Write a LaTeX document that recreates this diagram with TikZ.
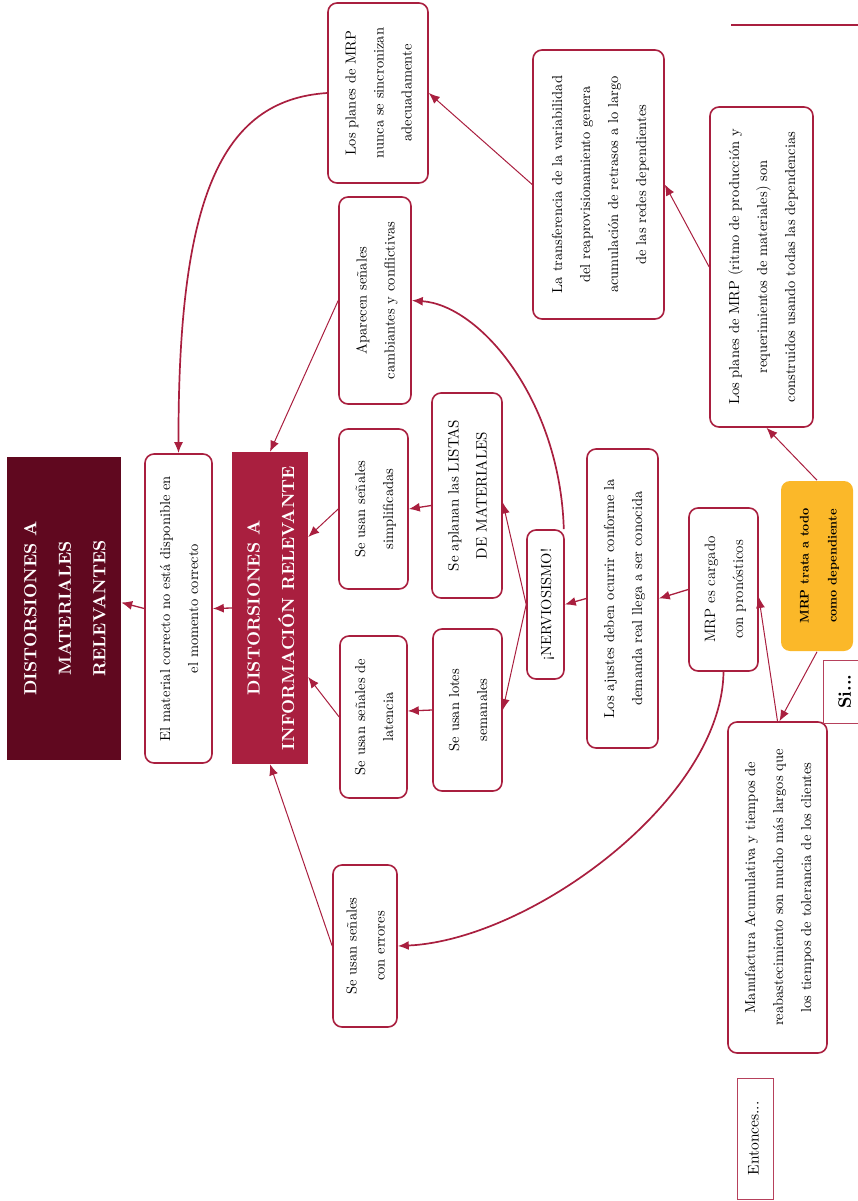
\documentclass[tikz,border=0pt]{standalone}
\usepackage{fontspec}
\setmainfont{lmroman10-regular.otf}[BoldFont=lmroman10-bold.otf]
\newfontfamily\lightrm{lmroman12-regular.otf}
\usetikzlibrary{arrows.meta}
\definecolor{crim}{HTML}{A91F3F}
\definecolor{wine}{HTML}{60081F}
\definecolor{amber}{HTML}{FBB829}
% stack lines of text and turn them to read upwards
\newcommand\rotlines[1]{\rotatebox{90}{\begin{tabular}{@{}c@{}}#1\end{tabular}}}
\begin{document}
\begin{tikzpicture}[x=1pt,y=-1pt,
  sz/.style 2 args={minimum width=#1, minimum height=#2},
  box/.style={draw=crim, line width=1.6pt, rounded corners=9pt, fill=white,
    inner sep=0pt, font=\fontsize{14.5}{28}\selectfont},
  head/.style={inner sep=0pt, text=white, font=\bfseries\fontsize{17.5}{34.5}\selectfont},
  tag/.style={draw=crim!85, line width=0.8pt, fill=white, inner sep=0pt},
  link/.style={draw=crim, line width=1pt, -{Latex[length=11pt,width=9pt]}},
  flat/.style={link, line width=1.3pt},
  arc/.style={link, line width=1.7pt}]
\useasboundingbox (0,0) rectangle (858,1201);

% rule at the top right
\draw[crim, line width=1.6pt] (731,25) -- (858,25);

% title blocks
\node[head, fill=wine, sz={114pt}{303pt}] (dmat) at (64,608.5)
  {\rotlines{DISTORSIONES A\\MATERIALES\\RELEVANTES}};
\node[head, fill=crim, sz={76pt}{312pt}] (dinfo) at (270,608)
  {\rotlines{DISTORSIONES A\\INFORMACIÓN RELEVANTE}};

% boxes
\node[box, sz={67pt}{309pt}] (mat) at (178.5,608.5)
  {\rotlines{El material correcto no está disponible en\\el momento correcto}};
\node[box, sz={69pt}{160pt}] (simp) at (373.5,509)
  {\rotlines{Se usan señales\\simplificadas}};
\node[box, sz={67pt}{162pt}] (lat) at (373.5,717)
  {\rotlines{Se usan señales de\\latencia}};
\node[box, sz={70pt}{205pt}, font=\fontsize{15}{28}\selectfont] (apla) at (467,495.5)
  {\rotlines{Se aplanan las LISTAS\\DE MATERIALES}};
\node[box, sz={69pt}{162pt}] (lotes) at (467.5,710)
  {\rotlines{Se usan lotes\\semanales}};
\node[box, sz={37pt}{149pt}] (nerv) at (545.5,604.5)
  {\rotlines{¡NERVIOSISMO!}};
\node[box, sz={71pt}{299pt}] (ajus) at (622.5,598.5)
  {\rotlines{Los ajustes deben ocurrir conforme la\\demanda real llega a ser conocida}};
\node[box, sz={69pt}{163pt}, font=\lightrm\fontsize{15}{28}\selectfont] (carg) at (723.5,589.5)
  {\rotlines{MRP es cargado\\con pronósticos}};
\node[box, draw=none, fill=amber, sz={72pt}{170pt},
  font=\bfseries\fontsize{12.5}{28}\selectfont] (trata) at (817,566)
  {\rotlines{MRP trata a todo\\como dependiente}};
\node[box, sz={99pt}{331pt}] (manu) at (777.5,887.5)
  {\rotlines{Manufactura Acumulativa y tiempos de\\reabastecimiento son mucho más largos que\\los tiempos de tolerancia de los clientes}};
\node[box, sz={64pt}{162pt}] (err) at (365,946)
  {\rotlines{Se usan señales\\con errores}};
\node[box, sz={100pt}{180pt}] (nunca) at (378,93)
  {\rotlines{Los planes de MRP\\nunca se sincronizan\\adecuadamente}};
\node[box, sz={72pt}{207pt}] (apar) at (375,300.5)
  {\rotlines{Aparecen señales\\cambiantes y conflictivas}};
\node[box, sz={131pt}{269pt}] (trans) at (598.5,184.5)
  {\rotlines{La transferencia de la variabilidad\\del reaprovisionamiento genera\\acumulación de retrasos a lo largo\\de las redes dependientes}};
\node[box, sz={103pt}{320pt}] (planes) at (761.5,267)
  {\rotlines{Los planes de MRP (ritmo de producción y\\requerimientos de materiales) son\\construidos usando todas las dependencias}};

% side tags
\node[tag, sz={47pt}{63pt}, font=\bfseries\fontsize{18}{22}\selectfont] (si) at (846.5,691.5)
  {\rotlines{Si...}};
\node[tag, sz={36pt}{121pt}, font=\fontsize{15.5}{18}\selectfont] (ent) at (755,1138.5)
  {\rotlines{Entonces...}};

% straight connectors
\draw[link] (trans.west) -- (nunca.east);
\draw[link] (planes.west) -- (trans.east);
\draw[link] (trata.north) -- ([xshift=5pt]planes.south);
\draw[link] (trata.south) -- ([xshift=2pt]manu.north);
\draw[link] (manu.north) -- ([yshift=-7.5pt]carg.east);
\draw[flat] (carg.west) -- (ajus.east);
\draw[flat] (ajus.west) -- (nerv.east);
\draw[link] (nerv.west) -- ([yshift=-7pt]apla.east);
\draw[link] (nerv.west) -- (lotes.east);
\draw[flat] ([yshift=-10pt]apla.west) -- (simp.east);
\draw[flat] (lotes.west) -- ([yshift=6pt]lat.east);
\draw[link] (simp.west) -- ([yshift=71pt]dinfo.east);
\draw[link] (lat.west) -- ([yshift=-69pt]dinfo.east);
\draw[link] (apar.west) -- (dinfo.north);
\draw[link] (err.west) -- (dinfo.south);
\draw[flat] (dinfo.west) -- (mat.east);
\draw[flat] (mat.west) -- ([yshift=6pt]dmat.east);

% curved connectors
\draw[arc] (nunca.west) .. controls (220,100) and (178,200) .. (mat.north);
\draw[arc] ([xshift=-1pt]nerv.north east) .. controls (560,400) and (480,305) .. (apar.east);
\draw[arc] (carg.south) .. controls (722,800) and (530,940) .. (err.east);
\end{tikzpicture}
\end{document}
